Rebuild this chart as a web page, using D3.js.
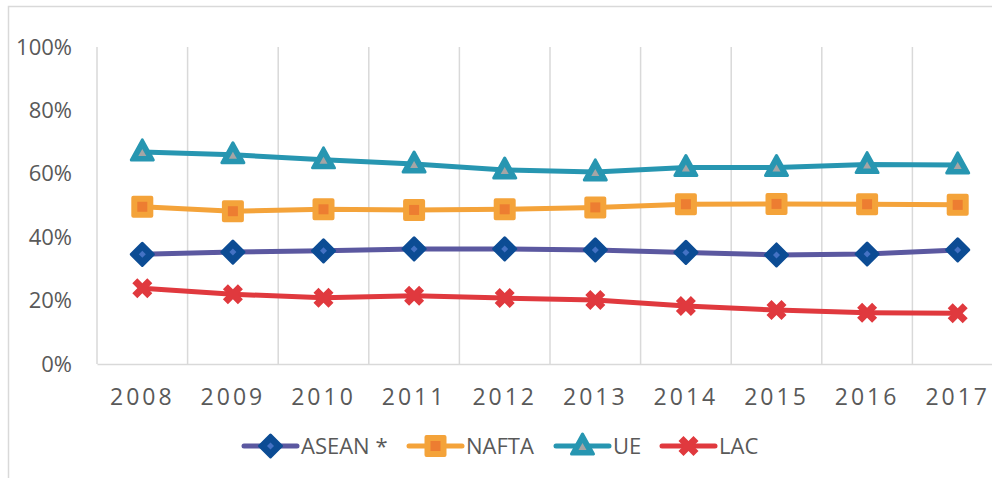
<!DOCTYPE html>
<html>
<head>
<meta charset="utf-8">
<script src="https://d3js.org/d3.v7.min.js"></script>
<style>
  body { margin: 0; background: #fff; }
  svg { display: block; font-family: "Open Sans", sans-serif; }
</style>
</head>
<body>
<div id="chart"></div>
<script>
var years = ["2008", "2009", "2010", "2011", "2012", "2013", "2014", "2015", "2016", "2017"];
var asean = [34.6, 35.3, 35.7, 36.3, 36.3, 36.0, 35.2, 34.4, 34.7, 36.0];
var nafta = [49.6, 48.2, 48.8, 48.6, 48.8, 49.4, 50.4, 50.5, 50.4, 50.2];
var ue    = [66.9, 66.0, 64.4, 63.1, 61.2, 60.6, 62.0, 62.0, 62.9, 62.8];
var lac   = [23.9, 22.0, 20.9, 21.5, 20.8, 20.2, 18.3, 17.0, 16.2, 16.0];
var yTicks = [0, 20, 40, 60, 80, 100];

var series = [
  { name: "ASEAN *", values: asean, line: "#5b58a0", mark: "diamond", mStroke: "#0c4c94", mFill: "#4472c4" },
  { name: "NAFTA", values: nafta, line: "#f4a33a", mark: "square", mStroke: "#f4a33a", mFill: "#ed7d31" },
  { name: "UE", values: ue, line: "#2796b1", mark: "triangle", mStroke: "#2796b1", mFill: "#a5a5a5" },
  { name: "LAC", values: lac, line: "#e0393e", mark: "x", mStroke: "#e0393e", mFill: "#e0393e" }
];

var W = 992, H = 478;
var plotL = 97, plotR = 1003, plotT = 47, plotB = 364;

var svg = d3.select("#chart").append("svg")
  .attr("width", W)
  .attr("height", H);

// chart border (cut off at right and bottom)
svg.append("rect")
  .attr("x", 8.5).attr("y", 6.5)
  .attr("width", 1000).attr("height", 500)
  .attr("fill", "none")
  .attr("stroke", "#d9d9d9")
  .attr("stroke-width", 1.5);

var x = d3.scaleBand().domain(years).range([plotL, plotR]);
var y = d3.scaleLinear().domain([0, 100]).range([plotB, plotT]);

// vertical category gridlines
var bounds = years.map(function(d) { return x(d); }).concat([x.range()[1]]);
svg.append("g").selectAll("line")
  .data(bounds)
  .enter().append("line")
  .attr("x1", function(d) { return d; })
  .attr("x2", function(d) { return d; })
  .attr("y1", plotT).attr("y2", plotB)
  .attr("stroke", "#d9d9d9")
  .attr("stroke-width", 1.5);

// x axis
var xAxis = svg.append("g")
  .attr("transform", "translate(0," + plotB + ")")
  .call(d3.axisBottom(x).tickSize(0).tickPadding(25));
xAxis.select(".domain").attr("stroke", "#d9d9d9").attr("stroke-width", 1.5);
xAxis.selectAll("text")
  .attr("fill", "#595959")
  .style("font-size", "23px")
  .style("letter-spacing", "3px")
  .attr("font-family", "Open Sans");

// y axis labels
var yAxis = svg.append("g")
  .attr("transform", "translate(" + plotL + ",0)")
  .call(d3.axisLeft(y).tickValues(yTicks).tickSize(0).tickPadding(25)
    .tickFormat(function(d) { return d + "%"; }));
yAxis.select(".domain").remove();
yAxis.selectAll("text")
  .attr("fill", "#595959")
  .style("font-size", "22px")
  .attr("font-family", "Open Sans");

function markerPath(type) {
  if (type === "diamond") return "M0,-11L11,0L0,11L-11,0Z";
  if (type === "square") return "M-9,-9H9V9H-9Z";
  if (type === "triangle") return "M0,-12L11,8H-11Z";
  return d3.symbol().type(d3.symbolCross).size(250)();
}
function innerPath(type) {
  if (type === "diamond") return "M0,-3.5L3.5,0L0,3.5L-3.5,0Z";
  if (type === "square") return "M-5,-5H5V5H-5Z";
  if (type === "triangle") return "M0,-3L4,4H-4Z";
  return null;
}

function drawMarker(g, s) {
  if (s.mark === "x") {
    g.append("path")
      .attr("d", markerPath("x"))
      .attr("transform", "rotate(45)")
      .attr("fill", s.mStroke);
    return;
  }
  g.append("path")
    .attr("d", markerPath(s.mark))
    .attr("fill", s.mStroke)
    .attr("stroke", s.mStroke)
    .attr("stroke-width", s.mark === "square" ? 4 : 3)
    .attr("stroke-linejoin", "round");
  g.append("path")
    .attr("d", innerPath(s.mark))
    .attr("fill", s.mFill);
}

var line = d3.line()
  .x(function(d, i) { return x(years[i]) + x.bandwidth() / 2; })
  .y(function(d) { return y(d); });

series.forEach(function(s) {
  var g = svg.append("g");
  g.append("path")
    .datum(s.values)
    .attr("d", line)
    .attr("fill", "none")
    .attr("stroke", s.line)
    .attr("stroke-width", 5)
    .attr("stroke-linecap", "round")
    .attr("stroke-linejoin", "round");
  g.selectAll("g.m")
    .data(s.values)
    .enter().append("g")
    .attr("class", "m")
    .attr("transform", function(d, i) {
      return "translate(" + (x(years[i]) + x.bandwidth() / 2) + "," + y(d) + ")";
    })
    .each(function() { drawMarker(d3.select(this), s); });
});

// legend
var legendX = [244, 409, 556, 662];
var legendY = 446;
series.forEach(function(s, i) {
  var g = svg.append("g").attr("transform", "translate(" + legendX[i] + "," + legendY + ")");
  g.append("line")
    .attr("x1", 0).attr("x2", 53)
    .attr("stroke", s.line)
    .attr("stroke-width", 5)
    .attr("stroke-linecap", "round");
  var m = g.append("g").attr("transform", "translate(26.5,0)");
  drawMarker(m, s);
  g.append("text")
    .attr("x", 57)
    .attr("y", 0)
    .attr("dy", "0.35em")
    .attr("fill", "#595959")
    .style("font-size", "22px")
    .text(s.name);
});
</script>
</body>
</html>
